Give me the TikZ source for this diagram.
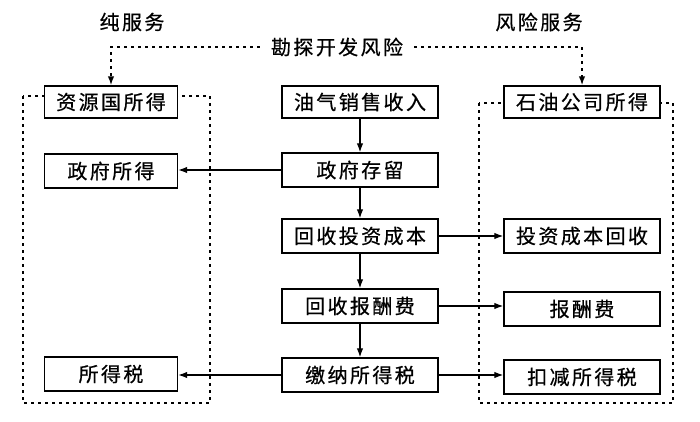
\documentclass[tikz,border=0pt]{standalone}
\usepackage{fontspec}
\setmainfont{Noto Sans CJK SC}[LetterSpace=12, FakeBold=0.6]
\usetikzlibrary{arrows.meta}
\begin{document}
\begin{tikzpicture}[x=1pt,y=-1pt,
  txt/.style={font=\fontsize{20}{20}\selectfont, inner sep=0pt},
  box/.style={txt, draw, line width=1.4pt, fill=white, minimum width=156pt, minimum height=34pt},
  sbox/.style={box, minimum width=133pt},
  arr/.style={line width=1.2pt, -{Latex[length=9pt,width=6.5pt]}},
  dsh/.style={line width=1.5pt, dash pattern=on 3pt off 4pt},
  darr/.style={dsh, -{Latex[length=9pt,width=6.5pt]}}]
\useasboundingbox (0,0) rectangle (700,421);
% dashed group frames
\draw[dsh] (23,96) rectangle (210,403);
\draw[dsh] (479,103) rectangle (673,403);
% titles
\node[txt] (t1) at (132,22) {纯服务};
\node[txt] (t2) at (539,22) {风险服务};
\node[txt, inner xsep=11pt] (T) at (337,47) {勘探开发风险};
% left column
\node[sbox, minimum height=32pt] (L1) at (111,102) {资源国所得};
\node[sbox] (L2) at (111,171) {政府所得};
\node[sbox] (L3) at (111,374) {所得税};
% center column
\node[box, minimum height=32pt] (C1) at (360,102) {油气销售收入};
\node[box] (C2) at (360,170) {政府存留};
\node[box] (C3) at (360,236) {回收投资成本};
\node[box] (C4) at (360,306) {回收报酬费};
\node[box] (C5) at (360,375) {缴纳所得税};
% right column
\node[box, minimum height=32pt] (R1) at (582,102) {石油公司所得};
\node[box] (R2) at (582,236) {投资成本回收};
\node[box] (R3) at (582,309) {报酬费};
\node[box] (R4) at (582,377) {扣减所得税};
% top dashed connectors
\draw[darr] (T.west) -| (L1.north);
\draw[darr] (T.east) -| (R1.north);
% vertical flow
\draw[arr] (C1) -- (C2);
\draw[arr] (C2) -- (C3);
\draw[arr] (C3) -- (C4);
\draw[arr] (C4) -- (C5);
% horizontal flows
\draw[arr] (C2.west) -- (C2.west -| L2.east);
\draw[arr] (C3.east) -- (C3.east -| R2.west);
\draw[arr] (C4.east) -- (C4.east -| R3.west);
\draw[arr] (C5.west) -- (C5.west -| L3.east);
\draw[arr] (C5.east) -- (C5.east -| R4.west);
\end{tikzpicture}
\end{document}
